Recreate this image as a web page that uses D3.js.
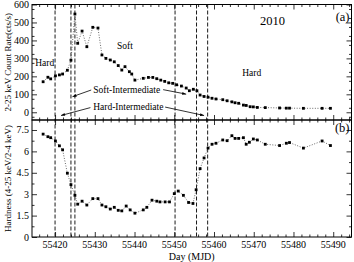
<!DOCTYPE html>
<html><head><meta charset="utf-8">
<script src="https://cdn.jsdelivr.net/npm/d3@7"></script>
<style>html,body{margin:0;padding:0;background:#fff}svg{display:block}text{font-family:"Liberation Serif","DejaVu Serif",serif;fill:#000}</style>
</head><body><svg id="c" width="354" height="262"></svg>
<script>
// ---- data ----
const rateDays = [55417.0,55418.2,55418.9,55420.1,55421.1,55421.9,55423.1,55424.0,55425.0,55425.7,55426.8,55428.0,55429.5,55430.8,55431.8,55432.8,55433.9,55434.9,55435.9,55436.8,55437.6,55438.7,55439.3,55440.1,55442.2,55443.5,55444.6,55445.6,55446.6,55447.6,55448.6,55449.6,55450.6,55451.8,55453.0,55453.8,55454.8,55455.7,55456.5,55457.5,55458.5,55459.5,55460.5,55462.2,55463.3,55464.5,55465.3,55466.2,55467.4,55468.1,55469.1,55469.9,55470.9,55472.9,55476.5,55478.2,55479.0,55482.5,55487.2,55489.3];
const rate = [170,195,186,203,208,213,234,290,547,384,452,365,473,469,319,300,291,281,260,235,254,226,213,179,189,194,194,187,179,172,164,161,153,146,135,120,128,120,96,88,84,78,74,70,64,58,53,50,40,38,31,30,27,26,24,23,23,22,22,22];
const hardDays = [55417.0,55418.2,55418.9,55420.1,55421.1,55421.9,55423.1,55424.0,55425.0,55425.7,55426.8,55428.0,55429.5,55430.8,55431.8,55432.8,55433.9,55434.9,55435.9,55436.8,55437.9,55438.9,55440.1,55442.2,55443.1,55444.4,55445.6,55446.4,55447.7,55448.8,55450.0,55451.0,55452.3,55453.6,55454.7,55455.5,55456.5,55457.5,55458.5,55459.5,55460.5,55462.2,55463.3,55464.5,55465.3,55466.2,55467.4,55468.1,55468.9,55469.9,55470.9,55472.9,55476.5,55478.2,55479.0,55482.5,55487.2,55489.3];
const hardness = [7.21,7.03,6.96,6.73,6.39,6.11,4.47,3.67,2.92,2.30,2.51,2.24,2.69,2.69,2.24,2.12,1.96,2.08,1.87,1.83,2.17,1.90,1.67,1.90,2.08,2.58,2.51,2.46,2.46,2.46,3.04,3.22,2.92,2.42,2.35,3.31,4.79,5.54,6.23,6.50,6.57,6.80,6.75,7.10,6.91,6.91,6.96,6.50,6.64,6.87,6.80,6.50,6.41,6.57,6.62,6.23,6.73,6.41];
const transitionDays = [55420.0,55424.0,55425.0,55450.2,55455.6,55458.4];
const xTicks = [55420,55430,55440,55450,55460,55470,55480,55490];
const rateTicks = [0,100,200,300,400,500,600];
const hardTicks = [0,1.5,3,4.5,6,7.5];
const hardTickLabels = ["0","1.5","3","4.5","6","7.5"];

// ---- layout ----
const L=32, R=351.5, T=4.5, M=120, B=237;
const svg = d3.select("#c");
const x = d3.scaleLinear().domain([55414.2,55494.6]).range([L,R]);
const yA = d3.scaleLinear().domain([-43,600]).range([M,T]);
const yB = d3.scaleLinear().domain([0,8.2]).range([B,M]);

const minorX = d3.range(55416,55495,2).filter(d=>d%10!==0);
const minorA = d3.range(-25,600,50);
const minorB = d3.range(0.75,8.2,1.5);

function tickSet(g, axis, vals, len){
  axis.tickValues(vals).tickSize(len).tickFormat("");
  g.call(axis); g.select(".domain").remove();
  g.selectAll("line").attr("stroke","#000").attr("stroke-width",0.8);
}
function frame(y, top, bot, majorY, minorY){
  const add = (tr, axis, vals, len) => tickSet(svg.append("g").attr("transform",tr), axis, vals, len);
  add(`translate(0,${bot})`, d3.axisTop(x), xTicks, 5);
  add(`translate(0,${bot})`, d3.axisTop(x), minorX, 2.5);
  add(`translate(0,${top})`, d3.axisBottom(x), xTicks, 5);
  add(`translate(0,${top})`, d3.axisBottom(x), minorX, 2.5);
  add(`translate(${L},0)`, d3.axisRight(y), majorY, 5);
  add(`translate(${L},0)`, d3.axisRight(y), minorY, 2.5);
  add(`translate(${R},0)`, d3.axisLeft(y), majorY, 5);
  add(`translate(${R},0)`, d3.axisLeft(y), minorY, 2.5);
  svg.append("rect").attr("x",L).attr("y",top).attr("width",R-L).attr("height",bot-top)
    .attr("fill","none").attr("stroke","#000").attr("stroke-width",1);
}
frame(yA, T, M, rateTicks, minorA);
frame(yB, M, B, hardTicks, minorB);

// tick labels
svg.append("g").selectAll("text").data(rateTicks).join("text")
  .attr("x",L-3).attr("y",d=>yA(d)+3.5).attr("text-anchor","end").attr("font-size",10).text(d=>d);
svg.append("g").selectAll("text").data(hardTicks).join("text")
  .attr("x",L-3).attr("y",d=>yB(d)+3.5).attr("text-anchor","end").attr("font-size",10).text((d,i)=>hardTickLabels[i]);
svg.append("g").selectAll("text").data(xTicks).join("text")
  .attr("x",d=>x(d)).attr("y",B+11).attr("text-anchor","middle").attr("font-size",10).text(d=>d);
svg.append("text").attr("x",(L+R)/2).attr("y",B+22.5).attr("text-anchor","middle").attr("font-size",10).text("Day (MJD)");
svg.append("text").attr("transform",`translate(11,${(T+M)/2}) rotate(-90)`).attr("text-anchor","middle").attr("font-size",9).text("2-25 keV Count Rate(cts/s)");
svg.append("text").attr("transform",`translate(11,${(M+B)/2}) rotate(-90)`).attr("text-anchor","middle").attr("font-size",9).text("Hardness (4-25 keV/2-4 keV)");

// transition dashed lines
svg.append("g").selectAll("line").data(transitionDays).join("line")
  .attr("x1",d=>x(d)).attr("x2",d=>x(d)).attr("y1",T).attr("y2",B)
  .attr("stroke","#000").attr("stroke-width",0.9).attr("stroke-dasharray","4,2");

// series
function series(days, vals, y){
  const pts = days.map((d,i)=>[d,vals[i]]);
  svg.append("path").datum(pts)
    .attr("d", d3.line().x(p=>x(p[0])).y(p=>y(p[1])))
    .attr("fill","none").attr("stroke","#444").attr("stroke-width",0.8).attr("stroke-dasharray","1,1.6");
  svg.append("g").selectAll("rect").data(pts).join("rect")
    .attr("x",p=>x(p[0])-1.4).attr("y",p=>y(p[1])-1.4).attr("width",2.8).attr("height",2.8).attr("fill","#000");
}
series(rateDays, rate, yA);
series(hardDays, hardness, yB);

// annotations (in data coordinates)
svg.append("defs").append("marker").attr("id","ah").attr("viewBox","0 0 10 10").attr("refX",10).attr("refY",5)
  .attr("markerWidth",6).attr("markerHeight",5).attr("orient","auto")
  .append("path").attr("d","M0,1.5 L10,5 L0,8.5 Z").attr("fill","#000");
const arrows = [
  [[55429.1,124],[55424.4,87]],
  [[55447.2,126],[55453.0,101]],
  [[55428.9,26],[55421.5,-18]],
  [[55447.7,29],[55457.5,-18]]
];
svg.append("g").selectAll("line").data(arrows).join("line")
  .attr("x1",a=>x(a[0][0])).attr("y1",a=>yA(a[0][1])).attr("x2",a=>x(a[1][0])).attr("y2",a=>yA(a[1][1]))
  .attr("stroke","#000").attr("stroke-width",0.8).attr("marker-end","url(#ah)");
const labels = [
  {t:"Soft-Intermediate", d:55429.6, v:110, s:9.5},
  {t:"Hard-Intermediate", d:55429.6, v:15, s:9.5},
  {t:"Hard", d:55415.0, v:255, s:9.5},
  {t:"Soft", d:55435.6, v:350, s:9.5},
  {t:"Hard", d:55467.1, v:200, s:9.5},
  {t:"2010", d:55471.6, v:487, s:12.5}
];
svg.append("g").selectAll("text").data(labels).join("text")
  .attr("x",l=>x(l.d)).attr("y",l=>yA(l.v)).attr("font-size",l=>l.s).text(l=>l.t);
svg.append("text").attr("x",R-2).attr("y",yA(510)).attr("text-anchor","end").attr("font-size",12.5).text("(a)");
svg.append("text").attr("x",R-2).attr("y",yB(7.35)).attr("text-anchor","end").attr("font-size",12.5).text("(b)");
</script></body></html>
